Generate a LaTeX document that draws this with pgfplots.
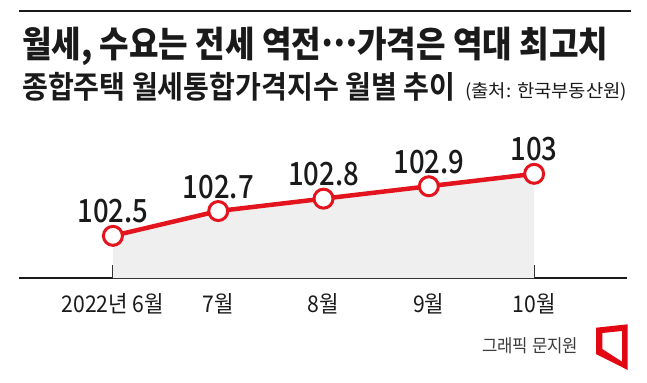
\documentclass[border=0pt]{standalone}
\usepackage{pgfplots}
\pgfplotsset{compat=1.18}
\usepackage{fontspec}
\usepackage{graphicx}
\setmainfont{Noto Sans CJK KR}
\newfontfamily\krblack{Noto Sans CJK KR Black}
\newfontfamily\krbold{Noto Sans CJK KR Bold}
\newfontfamily\krreg{Noto Sans CJK KR}
\newfontfamily\numfont[FakeStretch=0.86]{Noto Sans CJK KR Medium}
\newfontfamily\tickfont[FakeStretch=0.92]{Noto Sans CJK KR}
\definecolor{lred}{HTML}{E3141D}
\definecolor{fillg}{HTML}{EFEFEF}
\definecolor{txt}{HTML}{1A1A1A}
\definecolor{logored}{HTML}{E30613}
\begin{document}
\begin{tikzpicture}[x=1bp,y=1bp]
\useasboundingbox (0,0) rectangle (647,382);
% top rule
\draw[line width=2.2bp, txt] (19,371) -- (631,371);
% title
\node[anchor=base west, inner sep=0pt, text=txt] at (22,325)
  {\resizebox{586bp}{\height}{\fontsize{36bp}{40bp}\krblack 월세, 수요는 전세 역전\raisebox{0.3em}{…}가격은 역대 최고치}};
\node[anchor=base west, inner sep=0pt, text=txt] at (22,284)
  {\resizebox{433bp}{\height}{\fontsize{31bp}{34bp}\krbold 종합주택 월세통합가격지수 월별 추이}};
\node[anchor=base west, inner sep=0pt, text=txt] at (465,285)
  {\resizebox{162bp}{\height}{\fontsize{18bp}{20bp}\krreg (출처: 한국부동산원)}};
% credit
\node[anchor=base west, inner sep=0pt, text=txt!85] at (482,30)
  {\resizebox{96bp}{\height}{\fontsize{18bp}{20bp}\krreg 그래픽 문지원}};
% logo
\fill[logored, even odd rule] (596,54.3) -- (627.7,57.7) -- (627.7,12) -- (596,28) -- cycle
  (602.3,49) -- (622,51) -- (622,20.3) -- (602.3,33) -- cycle;
\begin{axis}[
  at={(19bp,104bp)}, anchor=south west,
  scale only axis, width=608bp, height=128.96bp,
  xmin=-0.892, xmax=4.882, ymin=102.16, ymax=103.2,
  axis x line=bottom, axis y line=none,
  x axis line style={-, line width=1.5bp, color=txt},
  xtick={0,1,2,3,4},
  xticklabels={2022년 6월,7월,8월,9월,10월},
  xtick align=inside,
  major tick length=13bp,
  every tick/.style={line width=1.5bp, color=txt},
  xticklabel style={anchor=base, yshift=-34bp, font=\fontsize{23bp}{25bp}\tickfont, text=txt},
  clip=false,
  axis on top=false,
]
\addplot[fill=fillg, draw=none] coordinates {(0,102.16) (0,102.5) (1,102.7) (2,102.8) (3,102.9) (4,103) (4,102.16)} -- cycle;
\addplot[color=lred, line width=4.5bp, mark=*, mark size=9.5bp,
  mark options={fill=white, draw=lred, line width=3bp},
  point meta=explicit symbolic,
  nodes near coords,
  every node near coord/.style={anchor=base, yshift=13bp, inner sep=0pt,
     font=\fontsize{32bp}{34bp}\numfont, text=txt},
] coordinates {(0,102.5)[102.5] (1,102.7)[102.7] (2,102.8)[102.8] (3,102.9)[102.9] (4,103)[103]};
\end{axis}
\end{tikzpicture}
\end{document}
